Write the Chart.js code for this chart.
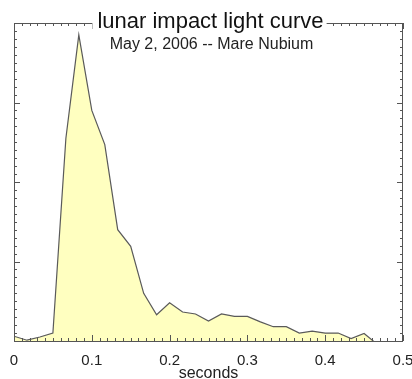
<!DOCTYPE html>
<html>
<head>
<meta charset="utf-8">
<script src="https://cdn.jsdelivr.net/npm/chart.js@4"></script>
<style>
  html, body { margin: 0; padding: 0; background: #fff; }
  #wrap { width: 412px; height: 379px; }
</style>
</head>
<body>
<div id="wrap"><canvas id="lightCurve"></canvas></div>
<script>
// tiempos de muestreo (video a 60 campos/s)
const times = [0, 0.0167, 0.0333, 0.05, 0.0667, 0.0833, 0.1, 0.1167, 0.1333, 0.15,
               0.1667, 0.1833, 0.2, 0.2167, 0.2333, 0.25, 0.2667, 0.2833, 0.3, 0.3167,
               0.3333, 0.35, 0.3667, 0.3833, 0.4, 0.4167, 0.4333, 0.45, 0.4667];
// brillo relativo (unidades arbitrarias)
const flux = [0.06, 0.01, 0.05, 0.10, 2.55, 3.85, 2.9, 2.47, 1.40, 1.19,
              0.60, 0.33, 0.48, 0.365, 0.34, 0.25, 0.34, 0.31, 0.31, 0.24,
              0.18, 0.18, 0.10, 0.125, 0.10, 0.10, 0.03, 0.095, -0.04];
const xTicks = [0, 0.1, 0.2, 0.3, 0.4, 0.5];

const FONT = "'Liberation Sans', Arial, Helvetica, sans-serif";
const AXIS = '#555';

// marco estilo IDL: borde, marcas hacia dentro y titulo sobre el borde superior
const framePlugin = {
    id: 'frame',
    afterDraw(chart) {
        const ctx = chart.ctx;
        const a = chart.chartArea;
        const xs = chart.scales.x, ys = chart.scales.y;
        ctx.save();
        ctx.strokeStyle = AXIS;
        ctx.lineWidth = 1;
        ctx.strokeRect(a.left + 0.5, a.top + 0.5, a.right - a.left - 1, a.bottom - a.top);

        ctx.beginPath();
        for (let i = 0; i <= 50; i++) {
            const px = Math.round(xs.getPixelForValue(i / 100)) + 0.5;
            const len = i % 10 === 0 ? 6 : 3;
            ctx.moveTo(px, a.bottom); ctx.lineTo(px, a.bottom - len);
            ctx.moveTo(px, a.top); ctx.lineTo(px, a.top + len);
        }
        for (let i = 0; i <= 40; i++) {
            const py = Math.round(ys.getPixelForValue(i / 10)) + 0.5;
            const len = i % 10 === 0 ? 6 : 3;
            ctx.moveTo(a.left, py); ctx.lineTo(a.left + len, py);
            ctx.moveTo(a.right, py); ctx.lineTo(a.right - len, py);
        }
        ctx.stroke();

        const cx = (a.left + a.right) / 2 + 2;
        ctx.font = '22px ' + FONT;
        const w = ctx.measureText('lunar impact light curve').width;
        ctx.fillStyle = '#fff';
        ctx.fillRect(cx - w / 2 - 5, 18, w + 8, 13);
        ctx.fillStyle = '#111';
        ctx.textAlign = 'center';
        ctx.textBaseline = 'alphabetic';
        ctx.fillText('lunar impact light curve', cx, 28);

        ctx.font = '16px ' + FONT;
        ctx.fillStyle = '#222';
        ctx.fillText('May 2, 2006 -- Mare Nubium', cx + 1, 49);
        ctx.restore();
    }
};

const ctx = document.getElementById('lightCurve').getContext('2d');
new Chart(ctx, {
    type: 'line',
    data: {
        datasets: [{
            data: times.map((t, i) => ({ x: t, y: flux[i] })),
            fill: 'origin',
            backgroundColor: '#ffffc0',
            borderColor: '#5a5a5a',
            borderWidth: 1.2,
            pointRadius: 0,
            tension: 0
        }]
    },
    options: {
        responsive: true,
        maintainAspectRatio: false,
        animation: false,
        layout: { padding: { left: 14, right: 9, top: 23, bottom: 0 } },
        plugins: { legend: { display: false }, tooltip: { enabled: false } },
        scales: {
            x: {
                type: 'linear',
                min: 0,
                max: 0.5,
                afterBuildTicks: scale => { scale.ticks = xTicks.map(v => ({ value: v })); },
                afterFit: scale => { scale.height = 38; scale.paddingLeft = 0; scale.paddingRight = 0; },
                grid: { display: false, drawTicks: false, tickLength: 0 },
                border: { display: false },
                ticks: {
                    padding: 11,
                    maxRotation: 0,
                    color: '#222',
                    font: { family: FONT, size: 15 },
                    callback: v => String(v)
                },
                title: {
                    display: true,
                    text: 'seconds',
                    color: '#222',
                    font: { family: FONT, size: 16 },
                    padding: { top: 0, bottom: -4 }
                }
            },
            y: {
                type: 'linear',
                min: 0,
                max: 4,
                display: false
            }
        }
    },
    plugins: [framePlugin]
});
</script>
</body>
</html>
